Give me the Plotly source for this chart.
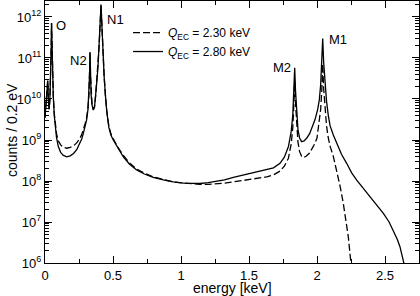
import plotly.graph_objects as go

# ---- data (energy in keV, counts per 0.2 eV) ----
energy_q280 = [0.000, 0.008, 0.015, 0.020, 0.025, 0.030, 0.036, 0.042, 0.046, 0.048, 0.051, 0.055,
               0.061, 0.068, 0.075, 0.085, 0.098, 0.115, 0.135, 0.160, 0.185, 0.210, 0.233, 0.255,
               0.270, 0.282, 0.295, 0.306, 0.316, 0.323, 0.328, 0.331, 0.334, 0.339, 0.346, 0.355,
               0.364, 0.372, 0.380, 0.390, 0.398, 0.405, 0.412, 0.419, 0.426, 0.435, 0.444, 0.454,
               0.470, 0.485, 0.502, 0.540, 0.576, 0.620, 0.674, 0.730, 0.796, 0.870, 0.943, 1.020,
               1.090, 1.140, 1.200, 1.260, 1.320, 1.385, 1.450, 1.510, 1.570, 1.630, 1.680, 1.728,
               1.760, 1.790, 1.810, 1.822, 1.830, 1.836, 1.842, 1.850, 1.860, 1.872, 1.887, 1.905,
               1.925, 1.945, 1.965, 1.985, 2.005, 2.017, 2.027, 2.035, 2.042, 2.049, 2.058, 2.070,
               2.083, 2.096, 2.120, 2.145, 2.180, 2.218, 2.255, 2.292, 2.340, 2.390, 2.440, 2.488,
               2.530, 2.561, 2.590, 2.610, 2.630, 2.645, 2.660]
counts_q280 = [3.5e9, 7.9e9, 2.0e10, 2.8e10, 1.0e10, 5.6e9, 1.0e10, 4.0e10, 2.0e11, 7.1e11, 1.6e11, 4.0e10,
               1.15e10, 4.0e9, 2.0e9, 1.12e9, 6.9e8, 5.0e8, 4.2e8, 3.9e8, 4.1e8, 4.7e8, 5.8e8, 7.9e8,
               1.05e9, 1.45e9, 2.1e9, 3.1e9, 5.6e9, 1.26e10, 4.0e10, 1.4e11, 4.0e10, 1.26e10, 7.1e9, 5.4e9,
               6.3e9, 1.12e10, 2.4e10, 6.3e10, 2.0e11, 6.3e11, 2.0e12, 5.6e11, 1.4e11, 3.5e10, 1.26e10, 5.0e9,
               2.0e9, 1.3e9, 1.0e9, 5.9e8, 3.9e8, 2.6e8, 1.86e8, 1.48e8, 1.23e8, 1.07e8, 9.5e7, 8.9e7,
               8.7e7, 8.7e7, 9.1e7, 9.8e7, 1.07e8, 1.23e8, 1.38e8, 1.51e8, 1.66e8, 1.86e8, 2.1e8, 2.7e8,
               3.8e8, 6.9e8, 1.6e9, 4.0e9, 1.6e10, 5.8e10, 1.6e10, 4.0e9, 1.8e9, 1.12e9, 9.1e8, 9.5e8,
               1.12e9, 1.41e9, 2.0e9, 3.1e9, 5.6e9, 9.5e9, 2.24e10, 7.1e10, 3.0e11, 7.9e10, 2.5e10, 8.9e9,
               4.0e9, 2.24e9, 1.32e9, 8.3e8, 4.5e8, 2.7e8, 1.58e8, 1.05e8, 6.6e7, 4.2e7, 2.6e7, 1.62e7,
               1.0e7, 6.3e6, 3.8e6, 2.5e6, 1.41e6, 8.9e5, 5.0e5]

energy_q230 = [0.000, 0.008, 0.015, 0.020, 0.025, 0.030, 0.036, 0.042, 0.046, 0.048, 0.051, 0.055,
               0.061, 0.068, 0.075, 0.085, 0.098, 0.115, 0.135, 0.160, 0.185, 0.210, 0.233, 0.255,
               0.270, 0.282, 0.295, 0.306, 0.316, 0.323, 0.328, 0.331, 0.334, 0.339, 0.346, 0.355,
               0.364, 0.372, 0.380, 0.390, 0.398, 0.405, 0.412, 0.419, 0.426, 0.435, 0.444, 0.454,
               0.470, 0.485, 0.502, 0.540, 0.576, 0.620, 0.674, 0.730, 0.796, 0.870, 0.943, 1.020,
               1.090, 1.140, 1.200, 1.260, 1.320, 1.385, 1.450, 1.510, 1.570, 1.630, 1.680, 1.728,
               1.760, 1.790, 1.810, 1.822, 1.830, 1.836, 1.842, 1.850, 1.860, 1.872, 1.887, 1.900,
               1.920, 1.945, 1.965, 1.985, 2.000, 2.015, 2.027, 2.035, 2.042, 2.049, 2.058, 2.070,
               2.083, 2.096, 2.120, 2.145, 2.170, 2.193, 2.210, 2.230, 2.248, 2.260]
counts_q230 = [3.5e9, 7.9e9, 2.0e10, 2.8e10, 1.0e10, 5.6e9, 1.0e10, 4.0e10, 2.0e11, 7.1e11, 1.6e11, 4.0e10,
               1.2e10, 4.5e9, 2.4e9, 1.41e9, 9.5e8, 7.6e8, 6.6e8, 6.3e8, 6.6e8, 7.2e8, 8.5e8, 1.07e9,
               1.35e9, 1.78e9, 2.5e9, 3.55e9, 6.0e9, 1.26e10, 4.0e10, 1.32e11, 4.0e10, 1.26e10, 7.4e9, 5.6e9,
               6.6e9, 1.15e10, 2.45e10, 6.3e10, 2.0e11, 6.3e11, 1.9e12, 5.6e11, 1.4e11, 3.5e10, 1.26e10, 5.2e9,
               2.1e9, 1.41e9, 1.07e9, 6.3e8, 4.2e8, 2.8e8, 1.95e8, 1.55e8, 1.26e8, 1.07e8, 9.5e7, 8.9e7,
               8.5e7, 8.3e7, 8.3e7, 8.5e7, 8.9e7, 9.5e7, 1.02e8, 1.1e8, 1.17e8, 1.26e8, 1.41e8, 1.74e8,
               2.3e8, 3.6e8, 7.9e8, 2.0e9, 7.9e9, 2.8e10, 7.9e9, 2.0e9, 8.9e8, 5.2e8, 4.0e8, 3.7e8,
               4.0e8, 4.8e8, 6.3e8, 8.3e8, 1.12e9, 2.5e9, 5.6e9, 1.6e10, 7.1e10, 1.8e10, 6.3e9, 2.24e9,
               1.12e9, 7.1e8, 4.0e8, 1.86e8, 7.4e7, 2.9e7, 1.26e7, 4.4e6, 1.12e6, 4.0e5]

x_tick_vals = [0, 0.5, 1, 1.5, 2, 2.5]
x_tick_text = ["0", "0.5", "1", "1.5", "2", "2.5"]
y_tick_vals = [1e6, 1e7, 1e8, 1e9, 1e10, 1e11, 1e12]
y_tick_text = ["10<sup>6</sup>", "10<sup>7</sup>", "10<sup>8</sup>", "10<sup>9</sup>",
               "10<sup>10</sup>", "10<sup>11</sup>", "10<sup>12</sup>"]
series_names = ["<i>Q</i><sub>EC</sub> = 2.30 keV", "<i>Q</i><sub>EC</sub> = 2.80 keV"]
peak_labels = ["O", "N2", "N1", "M2", "M1"]
peak_label_x = [0.118, 0.243, 0.515, 1.743, 2.154]
peak_label_logy = [11.8, 10.95, 11.93, 10.76, 11.44]

y_minor_vals = [m * d for d in y_tick_vals for m in range(2, 10)]

FONT = "Liberation Sans, Arial, Helvetica, sans-serif"

fig = go.Figure()
fig.add_trace(go.Scatter(x=energy_q230, y=counts_q230, mode="lines", name=series_names[0],
                         line=dict(color="black", width=1.3, dash="7px,3px")))
fig.add_trace(go.Scatter(x=energy_q280, y=counts_q280, mode="lines", name=series_names[1],
                         line=dict(color="black", width=1.3)))

for lab, lx, ly in zip(peak_labels, peak_label_x, peak_label_logy):
    fig.add_annotation(x=lx, y=ly, xref="x", yref="y", text=lab, showarrow=False,
                       font=dict(family=FONT, size=13, color="black"))

# axis titles
fig.add_annotation(x=0.5, y=-0.094, xref="paper", yref="paper", text="energy [keV]",
                   showarrow=False, xanchor="center", yanchor="middle",
                   font=dict(family=FONT, size=14, color="black"))
fig.add_annotation(x=-0.088, y=0.508, xref="paper", yref="paper", text="counts / 0.2 eV",
                   showarrow=False, xanchor="center", yanchor="middle", textangle=-90,
                   font=dict(family=FONT, size=14, color="black"))

fig.update_layout(
    width=420, height=296,
    margin=dict(l=45, r=1, t=1, b=33, autoexpand=False),
    paper_bgcolor="white", plot_bgcolor="white",
    font=dict(family=FONT, size=13, color="black"),
    showlegend=True,
    legend=dict(x=0.222, y=0.935, xanchor="left", yanchor="top",
                bgcolor="rgba(0,0,0,0)", font=dict(size=12), tracegroupgap=0),
    xaxis=dict(range=[0, 2.75], tickvals=x_tick_vals, ticktext=x_tick_text,
               ticks="inside", ticklen=7, tickwidth=1, tickcolor="black",
               minor=dict(tickvals=[0.25, 0.75, 1.25, 1.75, 2.25, 2.75], ticks="inside",
                          ticklen=4, tickcolor="black", showgrid=False),
               showline=True, linecolor="black", linewidth=1, mirror="allticks",
               showgrid=False, zeroline=False, automargin=False,
               ticklabelstandoff=0, tickfont=dict(size=13)),
    yaxis=dict(type="log", range=[6, 12.39], tickvals=y_tick_vals, ticktext=y_tick_text,
               ticks="inside", ticklen=7, tickwidth=1, tickcolor="black",
               minor=dict(tickvals=y_minor_vals, ticks="inside", ticklen=4, tickcolor="black",
                          showgrid=False),
               showline=True, linecolor="black", linewidth=1, mirror="allticks",
               showgrid=False, zeroline=False, automargin=False,
               tickfont=dict(size=13)),
)

fig.write_html("out.html", config={"displayModeBar": False},
               post_script="document.body.style.margin='0';document.body.style.overflow='hidden';")
